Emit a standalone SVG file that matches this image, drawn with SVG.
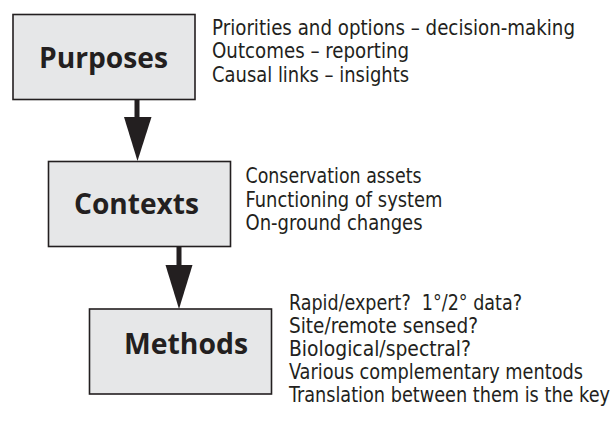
<svg xmlns="http://www.w3.org/2000/svg" width="613" height="432" viewBox="0 0 613 432">
  <style>
    .box { fill: #e6e7e8; stroke: #231f20; stroke-width: 1.6; }
    .title { font-family: "Open Sans", "Liberation Sans", sans-serif; font-weight: 700; font-size: 28px; fill: #231f20; text-anchor: middle; }
    .note { font-family: "DejaVu Sans Condensed", "Liberation Sans", sans-serif; font-size: 22px; fill: #231f20; white-space: pre; }
    .arrow { fill: #231f20; stroke: none; }
  </style>
  <rect width="613" height="432" fill="#ffffff"/>

  <!-- connectors: thick shaft plus filled head -->
  <g id="connectors">
    <g id="purposes-to-contexts">
      <rect class="arrow" x="134.5" y="99" width="5" height="19"/>
      <polygon class="arrow" points="124,117 151.5,117 137.5,161"/>
    </g>
    <g id="contexts-to-methods">
      <rect class="arrow" x="176.5" y="246" width="5" height="20"/>
      <polygon class="arrow" points="165.5,265 192.5,265 179,309"/>
    </g>
  </g>

  <!-- side notes are set in a horizontally condensed frame (x scaled by 0.9) -->
  <g id="purposes">
    <rect class="box" x="13" y="14.5" width="182" height="85"/>
    <text class="title" x="103.5" y="67.5" textLength="129" lengthAdjust="spacingAndGlyphs">Purposes</text>
    <g transform="scale(0.9,1)">
      <text class="note" x="235.6" y="35" textLength="403.3" lengthAdjust="spacingAndGlyphs">Priorities and options – decision-making</text>
      <text class="note" x="235.6" y="58.5" textLength="218.9" lengthAdjust="spacingAndGlyphs">Outcomes – reporting</text>
      <text class="note" x="235.6" y="82" textLength="218.9" lengthAdjust="spacingAndGlyphs">Causal links – insights</text>
    </g>
  </g>

  <g id="contexts">
    <rect class="box" x="48.5" y="161.5" width="182" height="85"/>
    <text class="title" x="136.5" y="214" textLength="125" lengthAdjust="spacingAndGlyphs">Contexts</text>
    <g transform="scale(0.9,1)">
      <text class="note" x="272.8" y="183.5" textLength="195.6" lengthAdjust="spacingAndGlyphs">Conservation assets</text>
      <text class="note" x="272.8" y="207" textLength="218.9" lengthAdjust="spacingAndGlyphs">Functioning of system</text>
      <text class="note" x="272.8" y="230.5" textLength="196.7" lengthAdjust="spacingAndGlyphs">On-ground changes</text>
    </g>
  </g>

  <g id="methods">
    <rect class="box" x="89.5" y="309" width="182" height="85"/>
    <text class="title" x="186" y="354" textLength="124" lengthAdjust="spacingAndGlyphs">Methods</text>
    <g transform="scale(0.9,1)">
      <text class="note" x="321.1" y="310.5" textLength="258.9" lengthAdjust="spacingAndGlyphs">Rapid/expert?  1°/2° data?</text>
      <text class="note" x="321.1" y="333.5" textLength="210" lengthAdjust="spacingAndGlyphs">Site/remote sensed?</text>
      <text class="note" x="321.1" y="356.5" textLength="202.2" lengthAdjust="spacingAndGlyphs">Biological/spectral?</text>
      <text class="note" x="321.1" y="379.5" textLength="326.7" lengthAdjust="spacingAndGlyphs">Various complementary mentods</text>
      <text class="note" x="321.1" y="402.5" textLength="356.7" lengthAdjust="spacingAndGlyphs">Translation between them is the key</text>
    </g>
  </g>
</svg>
